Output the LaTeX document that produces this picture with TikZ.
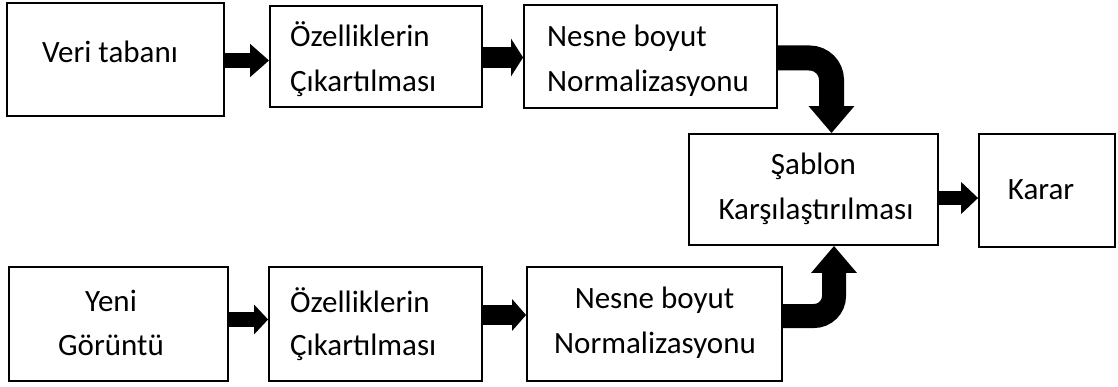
\documentclass[tikz,border=0pt]{standalone}
\usepackage{fontspec}
\setmainfont{Carlito}
\usetikzlibrary{arrows.meta,calc}
\tikzset{
  box/.style={draw=black, line width=1.8pt, rectangle, inner sep=0pt, fill=white},
  txt/.style={inner sep=0pt, font=\fontsize{31}{45}\selectfont},
  conn/.style={draw=black, line cap=butt}
}
\begin{document}
\begin{tikzpicture}[x=1pt,y=-1pt]
\useasboundingbox (0,0) rectangle (1118,387);
% boxes
\node[box, minimum width=217pt, minimum height=113pt] (b1) at (115.5,59.5) {};
\node[box, minimum width=212pt, minimum height=101pt] (b2) at (376,56.5) {};
\node[box, minimum width=253pt, minimum height=103pt] (b3) at (650.5,56.5) {};
\node[box, minimum width=219pt, minimum height=114pt] (c1) at (118.5,324) {};
\node[box, minimum width=213pt, minimum height=114pt] (c2) at (375.5,324) {};
\node[box, minimum width=255pt, minimum height=114pt] (c3) at (654.5,324) {};
\node[box, minimum width=249pt, minimum height=111pt] (s) at (813.5,189.5) {};
\node[box, minimum width=136pt, minimum height=113pt] (k) at (1047,190.5) {};
% texts
\node[txt, anchor=base] (t1) at (110,63) {Veri tabanı};
\node[txt, anchor=base west] (t2a) at (290,47) {Özelliklerin};
\node[txt, anchor=base west] (t2b) at (290,92) {Çıkartılması};
\node[txt, anchor=base west] (t3a) at (547,47) {Nesne boyut};
\node[txt, anchor=base west] (t3b) at (547,92) {Normalizasyonu};
\node[txt, anchor=base] (u1a) at (111,311) {Yeni};
\node[txt, anchor=base] (u1b) at (111,355) {Görüntü};
\node[txt, anchor=base west] (u2a) at (290,312) {Özelliklerin};
\node[txt, anchor=base west] (u2b) at (290,355) {Çıkartılması};
\node[txt, anchor=base] (u3a) at (654.5,308) {Nesne boyut};
\node[txt, anchor=base] (u3b) at (655,353) {Normalizasyonu};
\node[txt, anchor=base] (sa) at (813.5,175) {Şablon};
\node[txt, anchor=base] (sb) at (816,220) {Karşılaştırılması};
\node[txt, anchor=base] (ka) at (1041,200) {Karar};
% straight arrows
\draw[conn, line width=15pt, -{Triangle[length=19pt,width=32pt]}]
  ($(b1.east)+(0,1)$) -- ($(b1.east -| b2.west)+(0,1)$);
\draw[conn, line width=21pt, -{Triangle[length=12pt,width=37pt]}]
  ($(b2.east)+(0,1)$) -- ($(b2.east -| b3.west)+(0,1)$);
\draw[conn, line width=15pt, -{Triangle[length=14pt,width=29pt]}]
  ($(c1.east)+(0,-4.5)$) -- ($(c1.east -| c2.west)+(0,-4.5)$);
\draw[conn, line width=20pt, -{Triangle[length=14pt,width=31pt]}]
  ($(c2.east)+(0,-9)$) -- ($(c2.east -| c3.west)+(0,-9)$);
\draw[conn, line width=14pt, -{Triangle[length=17pt,width=31pt]}]
  ($(s.east)+(0,8.5)$) -- ($(s.east -| k.west)+(0,8.5)$);
% bent arrows
\draw[conn, line width=25pt, rounded corners=22pt, -{Triangle[length=27pt,width=44pt]}]
  ($(b3.east)+(0,1.5)$) -| ($(s.north)+(18,0)$);
\draw[conn, line width=24pt, rounded corners=20pt, -{Triangle[length=27pt,width=44pt]}]
  ($(c3.east)+(0,-8)$) -| ($(s.south)+(20.5,0)$);
\end{tikzpicture}
\end{document}
